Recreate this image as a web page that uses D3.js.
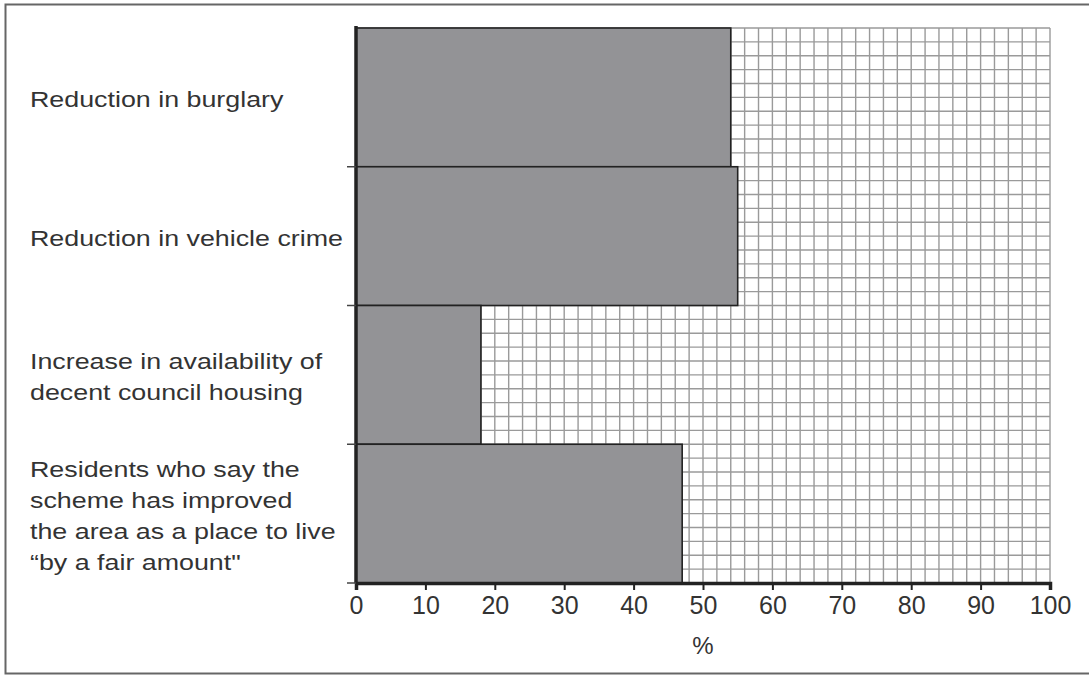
<!DOCTYPE html>
<html>
<head>
<meta charset="utf-8">
<script src="https://cdn.jsdelivr.net/npm/d3@7"></script>
<style>
  body { margin: 0; background: #fff; }
  svg text { font-family: "Liberation Sans", Arial, sans-serif; fill: #333; }
</style>
</head>
<body>
<div id="chart"></div>
<script>
// categories (one entry per line of the label)
var categories = [
    ["Reduction in burglary"],
    ["Reduction in vehicle crime"],
    ["Increase in availability of", "decent council housing"],
    ["Residents who say the", "scheme has improved", "the area as a place to live", "\u201cby a fair amount\""]
];
var values = [54, 55, 18, 47];
var xTicks = [0, 10, 20, 30, 40, 50, 60, 70, 80, 90, 100];
var xLabel = "%";

var W = 1089, H = 675;
var margin = { top: 28, right: 39, bottom: 92, left: 356 };
var width = W - margin.left - margin.right;
var height = H - margin.top - margin.bottom;

var svg = d3.select("#chart").append("svg")
    .attr("width", W)
    .attr("height", H);

// outer frame
svg.append("rect")
    .attr("x", 5.5).attr("y", 4.5)
    .attr("width", W + 10).attr("height", 669)
    .attr("fill", "none")
    .attr("stroke", "#666")
    .attr("stroke-width", 2);

var g = svg.append("g")
    .attr("transform", "translate(" + margin.left + "," + margin.top + ")");

var x = d3.scaleLinear().domain([0, 100]).range([0, width]);
var y = d3.scaleBand().domain(d3.range(categories.length)).range([0, height]);

// grid paper: vertical every 2 %, horizontal 10 rows per category
var gx = d3.range(0, 101, 2);
g.selectAll(".vgrid").data(gx).enter().append("line")
    .attr("class", "vgrid")
    .attr("x1", d => x(d)).attr("x2", d => x(d))
    .attr("y1", 0).attr("y2", height)
    .attr("stroke", "#9a9a9a").attr("stroke-width", 1.4);

var rows = d3.range(0, categories.length * 10 + 1);
var yRow = d3.scaleLinear().domain([0, categories.length * 10]).range([0, height]);
g.selectAll(".hgrid").data(rows).enter().append("line")
    .attr("class", "hgrid")
    .attr("x1", 0).attr("x2", width)
    .attr("y1", d => yRow(d)).attr("y2", d => yRow(d))
    .attr("stroke", "#9a9a9a").attr("stroke-width", 1.4);

// bars
g.selectAll(".bar").data(values).enter().append("rect")
    .attr("class", "bar")
    .attr("x", 0)
    .attr("y", (d, i) => y(i))
    .attr("width", d => x(d))
    .attr("height", y.bandwidth())
    .attr("fill", "#939396")
    .attr("stroke", "#222")
    .attr("stroke-width", 1.6);

// x axis
var xAxis = d3.axisBottom(x).tickValues(xTicks).tickSize(7).tickPadding(6);
var xg = g.append("g")
    .attr("transform", "translate(0," + height + ")")
    .call(xAxis);
xg.select(".domain").attr("stroke", "#222").attr("stroke-width", 3.5);
xg.selectAll(".tick line").attr("stroke", "#222").attr("stroke-width", 2);
xg.selectAll(".tick text").attr("font-size", 25).attr("fill", "#3a3a3a");

g.append("text")
    .attr("x", x(50))
    .attr("y", height + 71)
    .attr("text-anchor", "middle")
    .attr("font-size", 24)
    .text(xLabel);

// y axis: boundary ticks between categories
var bounds = d3.range(1, categories.length + 1).map(i => i < categories.length ? y(i) : height);
g.append("line")
    .attr("x1", 0).attr("x2", 0)
    .attr("y1", -2).attr("y2", height)
    .attr("stroke", "#222").attr("stroke-width", 3.5);
g.selectAll(".btick").data(bounds).enter().append("line")
    .attr("class", "btick")
    .attr("x1", -9).attr("x2", 0)
    .attr("y1", d => d).attr("y2", d => d)
    .attr("stroke", "#444").attr("stroke-width", 1.5);

// category labels (the source lettering is wide, so stretch horizontally)
var lineH = 31;
categories.forEach(function (lines, i) {
    var cy = y(i) + y.bandwidth() / 2 + 4;
    var t = svg.append("text")
        .attr("transform", "translate(30,0) scale(1.22,1)")
        .attr("font-size", 22);
    lines.forEach(function (s, j) {
        t.append("tspan")
            .attr("x", 0)
            .attr("y", margin.top + cy - (lines.length - 1) * lineH / 2 + j * lineH)
            .attr("dominant-baseline", "middle")
            .text(s);
    });
});
</script>
</body>
</html>
